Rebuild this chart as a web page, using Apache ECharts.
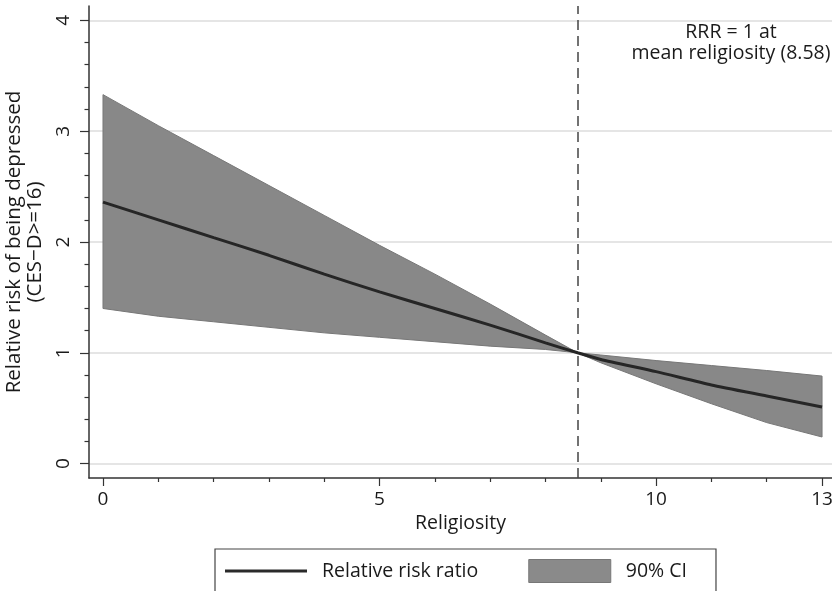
<!DOCTYPE html>
<html>
<head>
<meta charset="utf-8">
<script src="https://cdn.jsdelivr.net/npm/echarts@6/dist/echarts.min.js"></script>
<style>html,body{margin:0;padding:0;background:#fff}#c{width:832px;height:591px}</style>
</head>
<body>
<div id="c"></div>
<script>
// Data
const religiosity = [0, 1, 2, 3, 4, 5, 6, 7, 8, 8.58, 9, 10, 11, 12, 13];
const rrr        = [2.36, 2.20, 2.04, 1.88, 1.71, 1.55, 1.40, 1.25, 1.09, 1.00, 0.94, 0.83, 0.71, 0.61, 0.51];
const ciUpper    = [3.33, 3.05, 2.78, 2.51, 2.24, 1.97, 1.71, 1.44, 1.16, 1.00, 0.98, 0.93, 0.885, 0.84, 0.79];
const ciLower    = [1.40, 1.33, 1.28, 1.23, 1.18, 1.14, 1.10, 1.06, 1.03, 1.00, 0.91, 0.72, 0.54, 0.37, 0.24];
const meanReligiosity = 8.58;
const xMajorTicks = [0, 5, 10, 13];
const xMinorTicks = [1, 2, 3, 4, 6, 7, 8, 9, 11, 12];
const yMajorTicks = [0, 1, 2, 3, 4];
const yMinorTicks = [0.2, 0.4, 0.6, 0.8, 1.2, 1.4, 1.6, 1.8, 2.2, 2.4, 2.6, 2.8, 3.2, 3.4, 3.6, 3.8];

const FONT = '"Open Sans", "DejaVu Sans", sans-serif';
const TXT = '#1a1a1a';
const FS = 19.5;
const pairs = ys => religiosity.map((x, i) => [x, ys[i]]);

const X_MIN = -0.253, X_MAX = 13.18, Y_MIN = -0.13, Y_MAX = 4.13;

const chart = echarts.init(document.getElementById('c'), null, {renderer: 'canvas'});
chart.setOption({
  animation: false,
  backgroundColor: '#fff',
  textStyle: {fontFamily: FONT, color: TXT},
  grid: {left: 89, top: 6, right: 0, bottom: 113, containLabel: false, outerBoundsMode: 'none'},
  xAxis: [{
    type: 'value', min: X_MIN, max: X_MAX, position: 'bottom',
    name: 'Religiosity', nameLocation: 'middle', nameGap: 34,
    nameTextStyle: {fontSize: FS, color: TXT, fontFamily: FONT},
    axisLine: {show: true, onZero: false, lineStyle: {color: '#333', width: 1.5}},
    axisTick: {show: true, customValues: xMajorTicks, length: 8, lineStyle: {color: '#333', width: 1.2}},
    axisLabel: {show: true, customValues: xMajorTicks, fontSize: 19, color: TXT, fontFamily: FONT, margin: 12},
    splitLine: {show: false}
  }, {
    type: 'value', min: X_MIN, max: X_MAX, position: 'bottom',
    axisLine: {show: false, onZero: false},
    axisTick: {show: true, customValues: xMinorTicks, length: 4, lineStyle: {color: '#333', width: 1.2}},
    axisLabel: {show: false},
    splitLine: {show: false}
  }],
  yAxis: [{
    type: 'value', min: Y_MIN, max: Y_MAX, position: 'left',
    name: 'Relative risk of being depressed\n(CES\u2212D>=16)', nameLocation: 'middle', nameRotate: 90, nameGap: 41,
    nameTextStyle: {fontSize: 20.5, color: TXT, fontFamily: FONT, lineHeight: 21, align: 'center'},
    axisLine: {show: true, onZero: false, lineStyle: {color: '#333', width: 1.5}},
    axisTick: {show: true, customValues: yMajorTicks, length: 9, lineStyle: {color: '#333', width: 1.2}},
    axisLabel: {show: true, customValues: yMajorTicks, rotate: 90, fontSize: 19, color: TXT, fontFamily: FONT, margin: 16},
    splitLine: {show: false}
  }, {
    type: 'value', min: Y_MIN, max: Y_MAX, position: 'left', offset: 0,
    axisLine: {show: false, onZero: false},
    axisTick: {show: true, customValues: yMinorTicks, length: 4.5, lineStyle: {color: '#333', width: 1.2}},
    axisLabel: {show: false},
    splitLine: {show: false}
  }],
  legend: {
    left: 215, top: 549, orient: 'horizontal',
    padding: [10, 29, 10, 10], itemGap: 50, itemWidth: 82, itemHeight: 23,
    borderColor: '#444', borderWidth: 1.2,
    textStyle: {fontSize: FS, color: TXT, fontFamily: FONT, padding: [0, 0, 0, 10]},
    data: [
      {name: 'Relative risk ratio', icon: 'path://M0,0 L82,0 L82,3 L0,3 Z', itemStyle: {color: '#2a2a2a'}},
      {name: '90% CI', icon: 'rect', itemStyle: {color: '#8a8a8a', borderColor: '#777', borderWidth: 1}}
    ]
  },
  graphic: [{
    type: 'text', x: 731, y: 22, z: 100,
    style: {text: 'RRR = 1 at\nmean religiosity (8.58)', align: 'center', verticalAlign: 'top',
            fontSize: FS, fontFamily: FONT, fill: TXT, lineHeight: 21}
  }],
  series: [
    {
      name: 'gridlines', type: 'line', data: [], xAxisIndex: 0, yAxisIndex: 0, silent: true,
      markLine: {
        silent: true, symbol: 'none', label: {show: false}, z: 0,
        lineStyle: {color: '#dcdcdc', width: 1.5, type: 'solid'},
        data: yMajorTicks.map(v => ({yAxis: v}))
      }
    },
    {
      name: '90% CI', type: 'custom', xAxisIndex: 0, yAxisIndex: 0, silent: true, z: 2,
      itemStyle: {color: '#8a8a8a'},
      data: [[religiosity[0], ciLower[0]]],
      renderItem: function (params, api) {
        const pts = [];
        for (let i = 0; i < religiosity.length; i++) pts.push(api.coord([religiosity[i], ciUpper[i]]));
        for (let i = religiosity.length - 1; i >= 0; i--) pts.push(api.coord([religiosity[i], ciLower[i]]));
        return {
          type: 'polygon',
          shape: {points: pts, smooth: 0},
          style: {fill: '#888888', stroke: '#777', lineWidth: 1}
        };
      }
    },
    {
      name: 'Relative risk ratio', type: 'line', data: pairs(rrr), color: '#262626',
      symbol: 'none', smooth: 0.2, lineStyle: {color: '#262626', width: 3}, z: 4, silent: true,
      markLine: {
        silent: true, symbol: 'none', label: {show: false},
        lineStyle: {color: '#444', width: 1.5, type: [10, 6]},
        data: [{xAxis: meanReligiosity}]
      }
    }
  ]
});
</script>
</body>
</html>
